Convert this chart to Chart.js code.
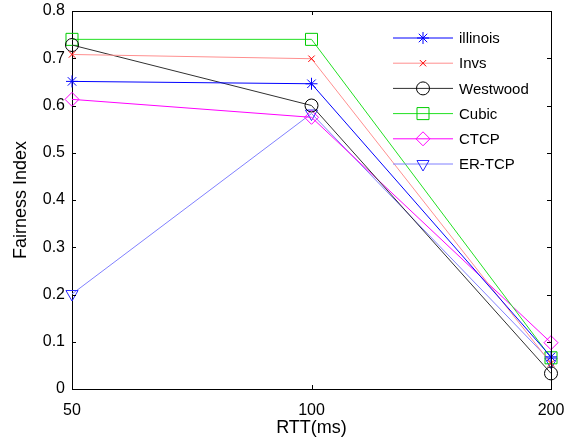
<!DOCTYPE html>
<html>
<head>
<meta charset="utf-8">
<script src="https://cdn.jsdelivr.net/npm/chart.js@4"></script>
<style>
  body { margin: 0; background: #fff; }
  canvas { display: block; }
</style>
</head>
<body>
<canvas id="grafica" width="568" height="443"></canvas>
<script>
// RTT values on the x axis
const rtt = ['50', '100', '200'];

// fairness index per algorithm
const illinois = [0.651, 0.646, 0.068];
const invs = [0.708, 0.699, 0.054];
const westwood = [0.728, 0.600, 0.033];
const cubic = [0.740, 0.740, 0.066];
const ctcp = [0.613, 0.575, 0.098];
const erTcp = [0.201, 0.583, 0.058];

const yTicks = [0, 0.1, 0.2, 0.3, 0.4, 0.5, 0.6, 0.7, 0.8];

const FONT = 'Arial, "Liberation Sans", sans-serif';

function serie(label, data, line, marker, style, radius, extra) {
  return Object.assign({
    label: label,
    data: data,
    borderColor: line,
    borderWidth: 1,
    pointStyle: style,
    pointRadius: radius,
    pointBorderColor: marker,
    pointBackgroundColor: 'rgba(0,0,0,0)',
    pointBorderWidth: 1,
    tension: 0,
    fill: false
  }, extra || {});
}

// frame, inner ticks and legend like the matlab figure
const marco = {
  id: 'marco',
  afterDraw(chart) {
    const { ctx, chartArea: a, scales } = chart;
    ctx.save();
    ctx.strokeStyle = '#000';
    ctx.lineWidth = 1;
    ctx.beginPath();
    ctx.moveTo(a.left, a.top + 0.5);
    ctx.lineTo(a.right + 0.5, a.top + 0.5);
    ctx.lineTo(a.right + 0.5, a.bottom);
    ctx.stroke();

    ctx.beginPath();
    yTicks.forEach(v => {
      const y = Math.round(scales.y.getPixelForValue(v)) + 0.5;
      ctx.moveTo(a.left, y); ctx.lineTo(a.left + 4, y);
      ctx.moveTo(a.right, y); ctx.lineTo(a.right - 4, y);
    });
    rtt.forEach((r, i) => {
      const x = Math.round(scales.x.getPixelForValue(i)) + 0.5;
      ctx.moveTo(x, a.bottom); ctx.lineTo(x, a.bottom - 4);
      ctx.moveTo(x, a.top); ctx.lineTo(x, a.top + 4);
    });
    ctx.stroke();

    // legend
    ctx.font = '15px ' + FONT;
    ctx.textBaseline = 'middle';
    ctx.fillStyle = '#000';
    chart.data.datasets.forEach((ds, i) => {
      const y = 38 + i * 25.2;
      ctx.strokeStyle = ds.borderColor;
      ctx.lineWidth = ds.borderWidth;
      ctx.beginPath();
      ctx.moveTo(393, y);
      ctx.lineTo(453, y);
      ctx.stroke();
      ctx.strokeStyle = ds.pointBorderColor;
      ctx.fillStyle = 'rgba(0,0,0,0)';
      Chart.helpers.drawPoint(ctx, {
        pointStyle: ds.pointStyle,
        rotation: ds.pointRotation || 0,
        radius: ds.pointRadius,
        borderWidth: 1
      }, 423, y);
      ctx.fillStyle = '#000';
      ctx.fillText(ds.label, 459, y + 1);
    });
    ctx.restore();
  }
};

const ctx = document.getElementById('grafica').getContext('2d');

const grafica = new Chart(ctx, {
  type: 'line',
  data: {
    labels: rtt,
    datasets: [
      serie('illinois', illinois, '#0000ff', '#0000ff', 'star', 6),
      serie('Invs', invs, '#ff8f8f', '#ff0000', 'crossRot', 4.5),
      serie('Westwood', westwood, '#303030', '#000000', 'circle', 6.5),
      serie('Cubic', cubic, '#22e022', '#00cc00', 'rect', 8.5),
      serie('CTCP', ctcp, '#ff00ff', '#ff00ff', 'rectRot', 7),
      serie('ER-TCP', erTcp, '#8080ff', '#2a2aff', 'triangle', 7, { pointRotation: 180 })
    ]
  },
  options: {
    responsive: false,
    animation: false,
    layout: { padding: { left: 0, top: 11, right: 17, bottom: 0 } },
    plugins: {
      legend: { display: false },
      tooltip: { enabled: false }
    },
    scales: {
      x: {
        type: 'category',
        offset: false,
        grid: { display: false, drawTicks: false },
        border: { display: true, color: '#000', width: 1 },
        ticks: { color: '#000', font: { family: FONT, size: 16 }, padding: 12 },
        title: { display: true, text: 'RTT(ms)', color: '#000', font: { family: FONT, size: 18 }, padding: { top: 2, bottom: 4 } },
        afterFit(scale) {
          scale.height = 54;
          scale.paddingLeft = 0;
          scale.paddingRight = 0;
        }
      },
      y: {
        min: 0,
        max: 0.8,
        grid: { display: false, drawTicks: false },
        border: { display: true, color: '#000', width: 1 },
        ticks: {
          stepSize: 0.1,
          color: '#000',
          font: { family: FONT, size: 16 },
          padding: 7,
          callback: v => v === 0 ? '0' : v.toFixed(1)
        },
        title: { display: true, text: 'Fairness Index', color: '#000', font: { family: FONT, size: 18 }, padding: { top: 10, bottom: 0 } },
        afterFit(scale) {
          scale.width = 72;
          scale.paddingTop = 0;
          scale.paddingBottom = 0;
        }
      }
    }
  },
  plugins: [marco]
});
</script>
</body>
</html>
